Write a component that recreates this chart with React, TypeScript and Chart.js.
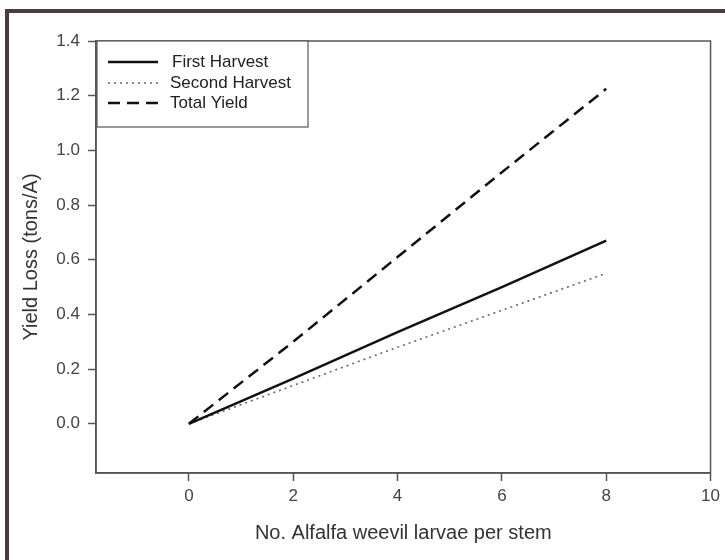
import React, { useEffect, useRef } from "react";
import { Chart, registerables } from "chart.js";

Chart.register(...registerables);

const larvae = [0, 2, 4, 6, 8];
const firstHarvest = [0, 0.165, 0.335, 0.5, 0.67];
const secondHarvest = [0, 0.14, 0.28, 0.415, 0.55];
const totalYield = [0, 0.3, 0.61, 0.92, 1.225];
const seriesNames = ["First Harvest", "Second Harvest", "Total Yield"];
const xTickValues = [0, 2, 4, 6, 8, 10];
const yTickValues = [0, 0.2, 0.4, 0.6, 0.8, 1.0, 1.2, 1.4];

const FONT = "'Liberation Sans', Arial, sans-serif";

const framePlugin = {
  id: "framePlugin",
  beforeDraw(chart: any) {
    const ctx = chart.ctx;
    ctx.save();
    ctx.fillStyle = "#ffffff";
    ctx.fillRect(0, 0, chart.width, chart.height);
    ctx.fillStyle = "#4b3a40";
    ctx.fillRect(5, 9, chart.width - 5, 4);
    ctx.fillRect(5, 9, 4, chart.height - 9);
    ctx.restore();
  },
  afterDraw(chart: any) {
    const ctx = chart.ctx;
    const a = chart.chartArea;
    ctx.save();
    ctx.strokeStyle = "#555555";
    ctx.lineWidth = 1.5;
    ctx.strokeRect(a.left, a.top, a.right - a.left, a.bottom - a.top);

    // legend box
    const bx = a.left + 1, by = a.top, bw = 211, bh = 86;
    ctx.fillStyle = "#ffffff";
    ctx.fillRect(bx, by, bw, bh);
    ctx.lineWidth = 1.2;
    ctx.strokeStyle = "#555555";
    ctx.strokeRect(bx, by, bw, bh);
    const rows = [21, 42, 62];
    chart.data.datasets.forEach((ds: any, i: number) => {
      const y = by + rows[i];
      ctx.beginPath();
      ctx.strokeStyle = ds.borderColor;
      ctx.lineWidth = ds.borderWidth;
      ctx.setLineDash(ds.borderDash || []);
      ctx.moveTo(bx + 11, y);
      ctx.lineTo(bx + 61, y);
      ctx.stroke();
      ctx.setLineDash([]);
      ctx.fillStyle = "#222222";
      ctx.font = `17px ${FONT}`;
      ctx.textBaseline = "middle";
      ctx.textAlign = "left";
      ctx.fillText(ds.label, bx + (i === 0 ? 75 : 73), y);
    });
    ctx.restore();
  },
};

export default function App() {
  const ref = useRef<HTMLCanvasElement>(null);
  useEffect(() => {
    document.body.style.margin = "0";
    const toPts = (ys: number[]) => larvae.map((x, i) => ({ x, y: ys[i] }));
    const chart = new Chart(ref.current!, {
      type: "line",
      data: {
        datasets: [
          {
            label: seriesNames[0],
            data: toPts(firstHarvest),
            borderColor: "#111111",
            borderWidth: 2.5,
            pointRadius: 0,
            tension: 0,
          },
          {
            label: seriesNames[1],
            data: toPts(secondHarvest),
            borderColor: "#666666",
            borderWidth: 1.6,
            borderDash: [2, 4],
            pointRadius: 0,
            tension: 0,
          },
          {
            label: seriesNames[2],
            data: toPts(totalYield),
            borderColor: "#111111",
            borderWidth: 2.5,
            borderDash: [12, 7],
            pointRadius: 0,
            tension: 0,
          },
        ],
      },
      options: {
        animation: false,
        responsive: false,
        devicePixelRatio: 1,
        layout: { padding: { left: 0, top: 41, right: 12, bottom: 0 } },
        plugins: { legend: { display: false }, tooltip: { enabled: false } },
        scales: {
          x: {
            type: "linear",
            min: -1.78,
            max: 10,
            afterBuildTicks: (s: any) => {
              s.ticks = xTickValues.map((v) => ({ value: v }));
            },
            afterFit: (s: any) => {
              s.height = 87;
            },
            ticks: {
              color: "#444444",
              font: { family: FONT, size: 17 },
              padding: 5,
              maxRotation: 0,
              callback: (v: any) => String(v),
            },
            grid: {
              drawOnChartArea: false,
              drawTicks: true,
              tickLength: 8,
              tickWidth: 1.5,
              tickColor: "#555555",
            },
            border: { display: true, color: "#555555", width: 1.5 },
            title: {
              display: true,
              text: "No. Alfalfa weevil larvae per stem",
              color: "#333333",
              font: { family: FONT, size: 20 },
              padding: { top: 0, bottom: 15 },
            },
          },
          y: {
            type: "linear",
            min: -0.18,
            max: 1.4,
            afterBuildTicks: (s: any) => {
              s.ticks = yTickValues.map((v) => ({ value: v }));
            },
            afterFit: (s: any) => {
              s.width = 96;
            },
            ticks: {
              color: "#444444",
              font: { family: FONT, size: 17 },
              padding: 8,
              callback: (v: any) => Number(v).toFixed(1),
            },
            grid: {
              drawOnChartArea: false,
              drawTicks: true,
              tickLength: 8,
              tickWidth: 1.5,
              tickColor: "#555555",
            },
            border: { display: true, color: "#555555", width: 1.5 },
            title: {
              display: true,
              text: "Yield Loss (tons/A)",
              color: "#333333",
              font: { family: FONT, size: 20 },
              padding: { top: 19, bottom: 0 },
            },
          },
        },
      },
      plugins: [framePlugin],
    });
    return () => chart.destroy();
  }, []);
  return (
    <div style={{ width: 725, height: 560 }}>
      <canvas ref={ref} width={725} height={560} />
    </div>
  );
}
